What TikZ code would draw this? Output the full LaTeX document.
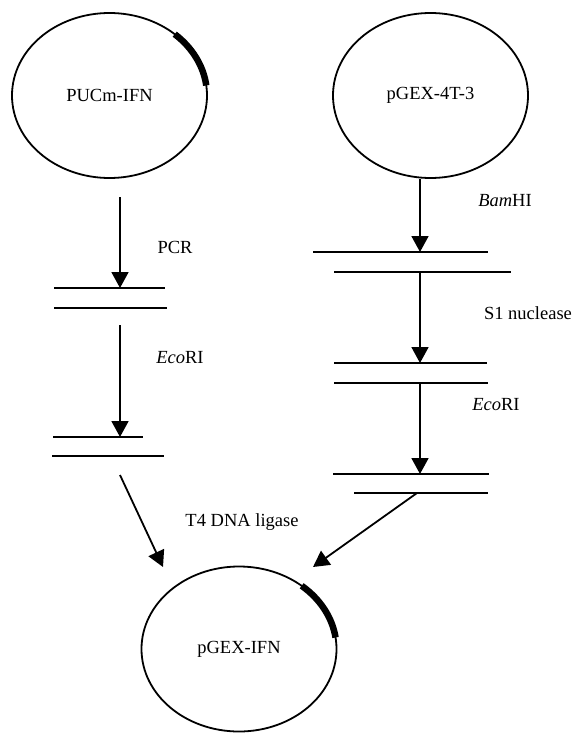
\documentclass[tikz,border=0pt]{standalone}
\usepackage{fontspec}
\setmainfont{Liberation Serif}
\usetikzlibrary{shapes.geometric,arrows.meta}

\begin{document}
\begin{tikzpicture}[x=1pt,y=-1pt,line width=1.8pt,
    font=\fontsize{18.5}{22}\selectfont,
    every edge/.style={draw,-{Triangle[width=17pt,length=16pt]}}]

      \useasboundingbox (0,0) rectangle (572,733);

      % plasmids
      \begin{scope}[every node/.style={ellipse,draw,inner sep=0pt,minimum width=195pt,minimum height=165pt}]
        \node (pucm) at (109.5,95.5) {PUCm-IFN};
        \node (pgex) at (430.5,95.5) {pGEX-4T-3};
        \node (ifn) at (239,649) {pGEX-IFN};
      \end{scope}

      % inserted gene
      \draw[line width=6.5pt] (pucm.center) ++(7:97.5pt and 82.5pt)
        arc[start angle=7,end angle=48,x radius=97.5pt,y radius=82.5pt];
      \draw[line width=6.5pt] (ifn.center) ++(8:97.5pt and 82.5pt)
        arc[start angle=8,end angle=50,x radius=97.5pt,y radius=82.5pt];

      % fragments
      \draw (54,288) -- (165,288);  \draw (54,308) -- (167,308);
      \draw (53,437) -- (143,437);  \draw (52,456) -- (164,456);
      \draw (313,252) -- (488,252); \draw (334,272) -- (511,272);
      \draw (334,363) -- (487,363); \draw (334,383) -- (488,383);
      \draw (333,474) -- (489,474); \draw (354,493) -- (488,493);

      \coordinate (1) at (120,197);
      \coordinate (2) at (120,288);
      \coordinate (3) at (120,325);
      \coordinate (4) at (120,437);
      \coordinate (5) at (120,475);
      \coordinate (6) at (163,567);
      \coordinate (7) at (420,252);
      \coordinate (8) at (420,272);
      \coordinate (9) at (420,363);
      \coordinate (10) at (420,383);
      \coordinate (11) at (420,474);
      \coordinate (12) at (417,493);
      \coordinate (13) at (313,567);

      \path (1) edge (2);
      \path (3) edge (4);
      \path (5) edge (6);
      \path (pgex.south -| 7) edge (7);
      \path (8) edge (9);
      \path (10) edge (11);
      \path (12) edge (13);

      % enzymes
      \node (pcr) at (175,247) {PCR};
      \node (eco1) at (180,358) {\textit{Eco}RI};
      \node (bam) at (505,201) {\textit{Bam}HI};
      \node (s1) at (528,313) {S1 nuclease};
      \node (eco2) at (496,405) {\textit{Eco}RI};
      \node (t4) at (242,522) {T4 DNA ligase};

    \end{tikzpicture}
\end{document}
